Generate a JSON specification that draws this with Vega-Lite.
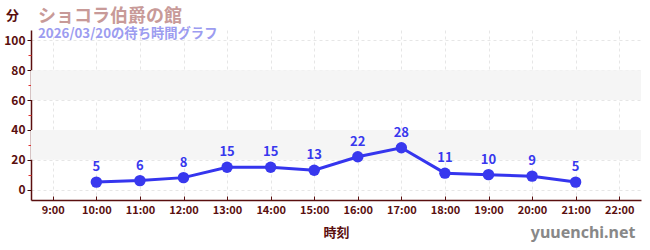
{
  "$schema": "https://vega.github.io/schema/vega-lite/v6.json",
  "width": 610,
  "height": 170,
  "autosize": {"type": "none"},
  "padding": {"left": 31, "top": 30, "right": 9, "bottom": 50},
  "background": "white",
  "config": {"font": "Noto Sans CJK JP", "view": {"stroke": null}},
  "title": {
    "text": "ショコラ伯爵の館",
    "subtitle": "2026/03/20の待ち時間グラフ",
    "anchor": "start",
    "frame": "group",
    "orient": "top",
    "offset": -31,
    "dx": 7,
    "fontSize": 18,
    "fontWeight": "bold",
    "color": "#c89a98",
    "subtitleFontSize": 13.3,
    "subtitleFontWeight": "bold",
    "subtitleColor": "#9c9cf0",
    "subtitlePadding": 1
  },
  "datasets": {
    "wait": [
      {"hour": 10, "minutes": 5},
      {"hour": 11, "minutes": 6},
      {"hour": 12, "minutes": 8},
      {"hour": 13, "minutes": 15},
      {"hour": 14, "minutes": 15},
      {"hour": 15, "minutes": 13},
      {"hour": 16, "minutes": 22},
      {"hour": 17, "minutes": 28},
      {"hour": 18, "minutes": 11},
      {"hour": 19, "minutes": 10},
      {"hour": 20, "minutes": 9},
      {"hour": 21, "minutes": 5}
    ],
    "bands": [
      {"lo": 20, "hi": 40},
      {"lo": 60, "hi": 80}
    ]
  },
  "layer": [
    {
      "data": {"name": "bands"},
      "mark": {"type": "rect", "color": "#f5f5f5"},
      "encoding": {
        "y": {
          "field": "lo", "type": "quantitative",
          "scale": {"domain": [-7, 107], "nice": false, "zero": false},
          "axis": {
            "orient": "left",
            "values": [0, 20, 40, 60, 80, 100],
            "labelOverlap": false,
            "title": "分",
            "titleAngle": 0,
            "titleX": -19,
            "titleY": -15,
            "titleBaseline": "middle",
            "titleAlign": "center",
            "titleColor": "#5a0f0f",
            "titleFontSize": 13,
            "titleFontWeight": "bold",
            "labelColor": "#5a0f0f",
            "labelFontSize": 12,
            "labelFontWeight": "bold",
            "labelPadding": 2,
            "tickSize": 4,
            "tickColor": "#3a0a0a",
            "domainColor": "#5a0f0f",
            "domainWidth": 1.5,
            "grid": true,
            "gridColor": "#e6e6e6",
            "gridDash": [3, 3]
          }
        },
        "y2": {"field": "hi"}
      }
    },
    {
      "data": {"name": "wait"},
      "mark": {"type": "line", "color": "#3535ee", "strokeWidth": 3},
      "encoding": {
        "x": {
          "field": "hour", "type": "quantitative",
          "scale": {"domain": [8.5, 22.5], "nice": false, "zero": false},
          "axis": {
            "values": [9, 10, 11, 12, 13, 14, 15, 16, 17, 18, 19, 20, 21, 22],
            "labelExpr": "datum.value + ':00'",
            "labelOverlap": false,
            "title": "時刻",
            "titleColor": "#5a0f0f",
            "titleFontSize": 13,
            "titleFontWeight": "bold",
            "titleY": 32,
            "titleBaseline": "middle",
            "labelColor": "#5a0f0f",
            "labelFontSize": 11,
            "labelFontWeight": "bold",
            "labelPadding": 8,
            "tickSize": -4,
            "tickColor": "#5a0f0f",
            "domainColor": "#5a0f0f",
            "domainWidth": 1.5,
            "grid": true,
            "gridColor": "#e6e6e6",
            "gridDash": [3, 3]
          }
        },
        "y": {
          "field": "minutes", "type": "quantitative",
          "axis": {
            "orient": "left",
            "values": [10, 30, 50, 70, 90],
            "labels": false,
            "title": null,
            "domain": false,
            "grid": false,
            "tickSize": 3,
            "tickColor": "#e03030"
          }
        }
      }
    },
    {
      "data": {"name": "wait"},
      "mark": {"type": "circle", "color": "#3838ee", "size": 130, "opacity": 1},
      "encoding": {
        "x": {"field": "hour", "type": "quantitative", "axis": null},
        "y": {"field": "minutes", "type": "quantitative", "axis": null}
      }
    },
    {
      "data": {"name": "wait"},
      "mark": {"type": "text", "color": "#3838ee", "fontSize": 13, "fontWeight": "bold", "dy": -15, "baseline": "middle"},
      "encoding": {
        "x": {"field": "hour", "type": "quantitative", "axis": null},
        "y": {"field": "minutes", "type": "quantitative", "axis": null},
        "text": {"field": "minutes", "type": "quantitative"}
      }
    },
    {
      "data": {"name": "wait"},
      "mark": {"type": "point", "opacity": 0},
      "encoding": {
        "x": {
          "field": "hour", "type": "quantitative",
          "axis": {
            "orient": "bottom",
            "title": "yuuenchi.net",
            "titleX": 604,
            "titleY": 32,
            "titleAlign": "right",
            "titleBaseline": "middle",
            "titleColor": "#888888",
            "titleFontSize": 16,
            "titleFontWeight": "bold",
            "titleFont": "Noto Sans",
            "labels": false,
            "ticks": false,
            "domain": false,
            "grid": false
          }
        },
        "y": {"field": "minutes", "type": "quantitative", "axis": null}
      }
    }
  ],
  "resolve": {"axis": {"x": "independent", "y": "independent"}}
}
